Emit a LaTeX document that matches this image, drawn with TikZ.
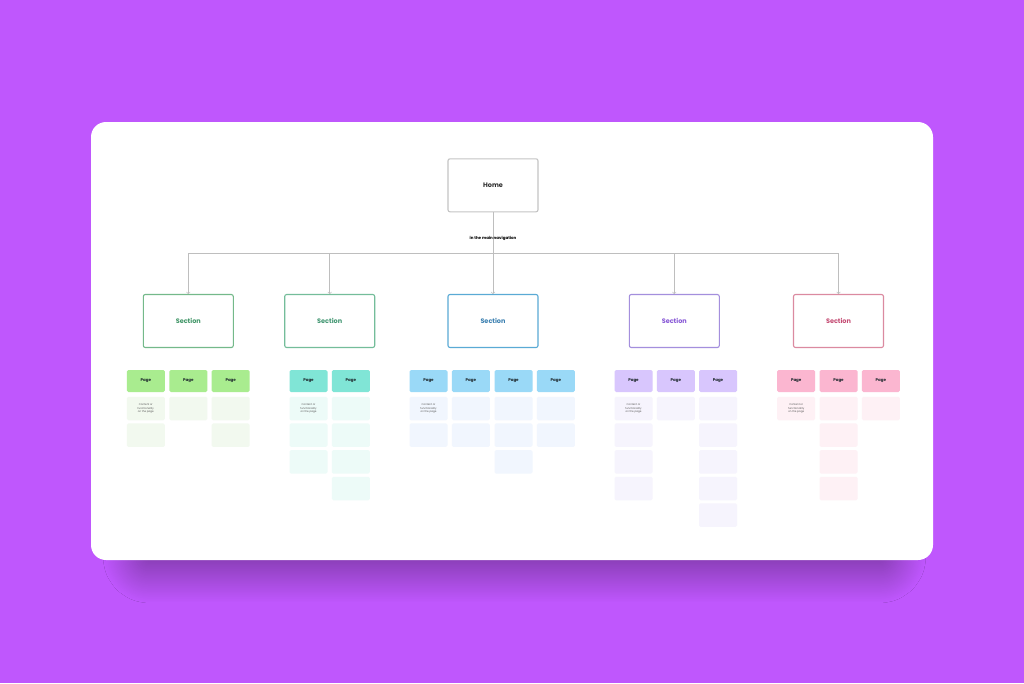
\documentclass[tikz,border=0pt]{standalone}
\usepackage{fontspec}
\setmainfont{Poppins}
\usetikzlibrary{shadows.blur}
\definecolor{bgpurple}{RGB}{191,87,253}
\definecolor{linegray}{RGB}{190,190,190}
\definecolor{homegray}{RGB}{196,196,196}
\definecolor{darktext}{RGB}{45,45,45}
\definecolor{pagetext}{RGB}{30,40,45}
\definecolor{greenpage}{RGB}{169,236,143}
\definecolor{greensub}{RGB}{242,249,239}
\definecolor{tealpage}{RGB}{128,229,214}
\definecolor{tealsub}{RGB}{237,251,248}
\definecolor{bluepage}{RGB}{154,217,247}
\definecolor{bluesub}{RGB}{241,246,254}
\definecolor{lavpage}{RGB}{216,198,253}
\definecolor{lavsub}{RGB}{246,244,253}
\definecolor{pinkpage}{RGB}{251,182,208}
\definecolor{pinksub}{RGB}{254,241,245}
\definecolor{greenline}{RGB}{116,185,138}
\definecolor{greentext}{RGB}{63,149,102}
\definecolor{tealline}{RGB}{116,189,154}
\definecolor{tealtext}{RGB}{63,149,112}
\definecolor{blueline}{RGB}{90,170,213}
\definecolor{bluetext}{RGB}{58,127,176}
\definecolor{lavline}{RGB}{164,143,221}
\definecolor{lavtext}{RGB}{134,86,214}
\definecolor{pinkline}{RGB}{219,138,160}
\definecolor{pinktext}{RGB}{196,74,114}
\tikzset{
	sectionbox/.style={draw, line width=1.1pt, rounded corners=2pt, fill=white, minimum width=90pt, minimum height=53pt, inner sep=0pt, font=\fontsize{6.5}{8}\selectfont\bfseries},
	pagebox/.style={rounded corners=1.5pt, minimum width=38pt, minimum height=22pt, inner sep=0pt, text=pagetext, font=\fontsize{4}{5}\selectfont\bfseries},
	subbox/.style={rounded corners=1.5pt, minimum width=38pt, minimum height=23.5pt, inner sep=0pt, align=center, text=darktext!80, font=\fontsize{2.6}{3.1}\selectfont},
	link/.style={draw=linegray, line width=0.6pt},
	navlabel/.style={text=black, font=\fontsize{4}{5}\selectfont\bfseries, inner sep=1pt}
}
\begin{document}
\begin{tikzpicture}[x=1pt,y=-1pt]
					\useasboundingbox (0,0) rectangle (1024,683);
					\fill[bgpurple] (0,0) rectangle (1024,683);
					\fill[white, rounded corners=15pt, blur shadow={shadow yshift=-36pt, shadow scale=0.9, shadow blur radius=36pt, shadow blur steps=80, shadow opacity=40}] (91,122) rectangle (933,560);
					
					\node (home) at (493,185.3)[sectionbox, draw=homegray, text=darktext]{Home};
					
					\node (sec1) at (188.3,321)[sectionbox, draw=greenline, text=greentext]{Section};
					\node (sec2) at (329.7,321)[sectionbox, draw=tealline, text=tealtext]{Section};
					\node (sec3) at (493,321)[sectionbox, draw=blueline, text=bluetext]{Section};
					\node (sec4) at (674.3,321)[sectionbox, draw=lavline, text=lavtext]{Section};
					\node (sec5) at (838.5,321)[sectionbox, draw=pinkline, text=pinktext]{Section};
					
					\coordinate (b1) at (188.3,253.3);
					\coordinate (b2) at (329.7,253.3);
					\coordinate (b4) at (674.3,253.3);
					\coordinate (b5) at (838.5,253.3);
					\draw[link] (b1) -- (b5);
					\draw[link,->] (home) -- node[navlabel, pos=0.315]{in the main navigation} (sec3);
					\draw[link,->] (b1) -- (sec1);
					\draw[link,->] (b2) -- (sec2);
					\draw[link,->] (b4) -- (sec4);
					\draw[link,->] (b5) -- (sec5);
					
					% pages
					\node (g1p1) at (145.8,381)[pagebox, fill=greenpage]{Page};
					\node (g1p2) at (188.3,381)[pagebox, fill=greenpage]{Page};
					\node (g1p3) at (230.7,381)[pagebox, fill=greenpage]{Page};
					\node (g2p1) at (308.5,381)[pagebox, fill=tealpage]{Page};
					\node (g2p2) at (350.8,381)[pagebox, fill=tealpage]{Page};
					\node (g3p1) at (428.5,381)[pagebox, fill=bluepage]{Page};
					\node (g3p2) at (470.8,381)[pagebox, fill=bluepage]{Page};
					\node (g3p3) at (513.5,381)[pagebox, fill=bluepage]{Page};
					\node (g3p4) at (555.8,381)[pagebox, fill=bluepage]{Page};
					\node (g4p1) at (633.5,381)[pagebox, fill=lavpage]{Page};
					\node (g4p2) at (675.8,381)[pagebox, fill=lavpage]{Page};
					\node (g4p3) at (718,381)[pagebox, fill=lavpage]{Page};
					\node (g5p1) at (796.2,381)[pagebox, fill=pinkpage]{Page};
					\node (g5p2) at (838.5,381)[pagebox, fill=pinkpage]{Page};
					\node (g5p3) at (880.8,381)[pagebox, fill=pinkpage]{Page};
					
					% content under the pages
					\node (g1a1) at (145.8,408.5)[subbox, fill=greensub]{Content or\\functionality\\on the page};
					\node (g1a2) at (145.8,435.2)[subbox, fill=greensub]{};
					\node (g1b1) at (188.3,408.5)[subbox, fill=greensub]{};
					\node (g1c1) at (230.7,408.5)[subbox, fill=greensub]{};
					\node (g1c2) at (230.7,435.2)[subbox, fill=greensub]{};
					
					\node (g2a1) at (308.5,408.5)[subbox, fill=tealsub]{Content or\\functionality\\on the page};
					\node (g2a2) at (308.5,435.2)[subbox, fill=tealsub]{};
					\node (g2a3) at (308.5,461.8)[subbox, fill=tealsub]{};
					\node (g2b1) at (350.8,408.5)[subbox, fill=tealsub]{};
					\node (g2b2) at (350.8,435.2)[subbox, fill=tealsub]{};
					\node (g2b3) at (350.8,461.8)[subbox, fill=tealsub]{};
					\node (g2b4) at (350.8,488.5)[subbox, fill=tealsub]{};
					
					\node (g3a1) at (428.5,408.5)[subbox, fill=bluesub]{Content or\\functionality\\on the page};
					\node (g3a2) at (428.5,435.2)[subbox, fill=bluesub]{};
					\node (g3b1) at (470.8,408.5)[subbox, fill=bluesub]{};
					\node (g3b2) at (470.8,435.2)[subbox, fill=bluesub]{};
					\node (g3c1) at (513.5,408.5)[subbox, fill=bluesub]{};
					\node (g3c2) at (513.5,435.2)[subbox, fill=bluesub]{};
					\node (g3c3) at (513.5,461.8)[subbox, fill=bluesub]{};
					\node (g3d1) at (555.8,408.5)[subbox, fill=bluesub]{};
					\node (g3d2) at (555.8,435.2)[subbox, fill=bluesub]{};
					
					\node (g4a1) at (633.5,408.5)[subbox, fill=lavsub]{Content or\\functionality\\on the page};
					\node (g4a2) at (633.5,435.2)[subbox, fill=lavsub]{};
					\node (g4a3) at (633.5,461.8)[subbox, fill=lavsub]{};
					\node (g4a4) at (633.5,488.5)[subbox, fill=lavsub]{};
					\node (g4b1) at (675.8,408.5)[subbox, fill=lavsub]{};
					\node (g4c1) at (718,408.5)[subbox, fill=lavsub]{};
					\node (g4c2) at (718,435.2)[subbox, fill=lavsub]{};
					\node (g4c3) at (718,461.8)[subbox, fill=lavsub]{};
					\node (g4c4) at (718,488.5)[subbox, fill=lavsub]{};
					\node (g4c5) at (718,515.2)[subbox, fill=lavsub]{};
					
					\node (g5a1) at (796.2,408.5)[subbox, fill=pinksub]{Content or\\functionality\\on the page};
					\node (g5b1) at (838.5,408.5)[subbox, fill=pinksub]{};
					\node (g5b2) at (838.5,435.2)[subbox, fill=pinksub]{};
					\node (g5b3) at (838.5,461.8)[subbox, fill=pinksub]{};
					\node (g5b4) at (838.5,488.5)[subbox, fill=pinksub]{};
					\node (g5c1) at (880.8,408.5)[subbox, fill=pinksub]{};
\end{tikzpicture}
\end{document}
